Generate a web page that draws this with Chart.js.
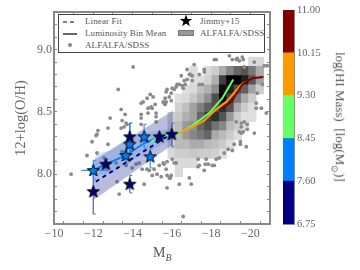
<!DOCTYPE html>
<html>
<head>
<meta charset="utf-8">
<script src="https://cdn.jsdelivr.net/npm/chart.js@4"></script>
<style>
body { margin: 0; background: #fff; width: 360px; height: 270px; overflow: hidden; position: relative; font-family: "Liberation Serif", serif; color: #555; }
canvas { position: absolute; top: 0; }
#legend { position: absolute; left: 58px; top: 14px; width: 205px; height: 37px; border: 1.5px solid #444; background: #fff; font-size: 9px; letter-spacing: 0.1px; }
#legend span, #legend svg { position: absolute; white-space: nowrap; }
#xlabel { position: absolute; left: 153px; top: 245px; font-size: 14px; }
#xlabel sub { font-size: 10px; font-style: italic; }
#cbarlabel { position: absolute; left: 339px; top: 117px; font-size: 13px; white-space: nowrap; transform: translate(-50%, -50%) rotate(90deg); }
#cbarlabel sub { font-size: 9px; }
</style>
</head>
<body>
<canvas id="mainChart" width="360" height="270" style="left:0"></canvas>
<canvas id="cbarChart" width="90" height="270" style="left:270px"></canvas>
<div id="legend">
  <svg style="left:4px;top:4px" width="14" height="6"><line x1="0" y1="3" x2="14" y2="3" stroke="#000" stroke-width="1.2" stroke-dasharray="4 3"/></svg>
  <span style="left:26px;top:1px">Linear Fit</span>
  <svg style="left:4px;top:16px" width="14" height="6"><line x1="0" y1="3" x2="14" y2="3" stroke="#000" stroke-width="1.2"/></svg>
  <span style="left:26px;top:13px">Luminosity Bin Mean</span>
  <svg style="left:8px;top:27px" width="6" height="6"><circle cx="3" cy="3" r="2" fill="#888"/></svg>
  <span style="left:26px;top:25px">ALFALFA/SDSS</span>
  <svg style="left:120px;top:-1px" width="14" height="14" viewBox="-7 -7 14 14"><polygon points="0,-6.5 1.6,-2 6.2,-2 2.5,0.8 3.8,5.3 0,2.6 -3.8,5.3 -2.5,0.8 -6.2,-2 -1.6,-2" fill="#000"/></svg>
  <svg style="left:119px;top:15px" width="16" height="7"><rect x="0.5" y="0.5" width="15" height="5" fill="#999" stroke="#777"/></svg>
  <span style="left:141px;top:1px">Jimmy+15</span>
  <span style="left:141px;top:13px">ALFALFA/SDSS</span>
</div>
<div id="xlabel">M<sub>B</sub></div>
<div id="cbarlabel">log(HI Mass) &nbsp;[log(M<sub>⊙</sub>)]</div>
<script>
const xTickLabels = [-10, -12, -14, -16, -18, -20];
const yTickLabels = [8.0, 8.5, 9.0];

// ALFALFA/SDSS outliers
const dotMag = [-14.03,-13.27,-14.90,-15.05,-14.74,-14.54,-14.44,-15.15,-14.79,-15.00,-15.76,-16.02,-16.22,-15.66,-15.71,-15.97,-15.66,-13.42,-13.62,-12.86,-14.44,-14.79,-15.20,-14.44,-13.47,-13.67,-13.72,-12.24,-12.75,-13.42,-14.44,-12.19,-10.87,-11.68,-11.94,-12.14,-12.75,-12.19,-13.57,-14.95,-15.20,-15.20,-15.56,-15.87,-13.32,-13.21,-14.59,-15.76,-14.85,-15.10,-15.36,-15.56,-15.76,-16.02,-16.22,-15.25,-15.46,-15.76,-15.00,-14.74,-14.18,-13.98,-13.67,-13.83,-14.34,-14.49,-13.47,-13.16,-12.55,-16.38,-16.99,-16.58,-16.12,-15.97,-15.92,-16.89,-17.34,-17.75,-18.26,-17.34,-17.70,-17.85,-18.06,-17.65,-20.30,-20.56,-20.30,-20.81,-19.54,-19.69,-19.84,-19.54,-19.84,-19.54,-19.64,-20.20,-19.18,-19.49,-19.49,-19.79,-18.87,-18.93,-19.08,-19.28,-19.44,-19.59,-19.64,-20.20,-20.71,-20.86,-20.61,-20.35,-17.14,-16.78,-16.48,-16.94,-17.04,-16.63,-16.27,-16.53,-15.71,-15.61,-16.12,-18.26,-19.33,-19.69,-19.28,-19.44,-19.08,-18.67,-18.42,-17.40,-18.16,-15.87,-15.61,-15.71,-16.89,-17.40,-17.65,-17.65,-18.16,-16.78,-17.04,-17.40,-17.55,-16.68,-16.38,-16.58,-15.97];
const dotOH = [8.86,8.68,8.64,8.62,8.61,8.58,8.57,8.56,8.53,8.53,8.68,8.69,8.70,8.61,8.58,8.59,8.56,8.52,8.48,8.45,8.48,8.49,8.49,8.45,8.43,8.41,8.40,8.35,8.37,8.37,8.40,8.32,8.00,8.15,8.26,8.31,8.24,8.17,8.38,8.54,8.46,8.42,8.58,8.62,7.84,7.94,7.92,7.89,8.03,8.04,8.07,8.09,8.10,8.12,8.09,8.00,7.98,7.99,7.99,8.04,8.08,8.05,8.07,8.11,8.09,8.04,8.18,8.09,8.13,7.92,7.92,7.66,8.09,7.99,7.97,7.97,8.12,8.12,8.12,8.06,8.08,8.08,8.07,8.03,8.57,8.53,8.53,8.49,8.41,8.42,8.40,8.38,8.36,8.33,8.34,8.33,8.24,8.26,8.24,8.22,8.20,8.95,8.92,8.92,8.91,8.94,8.92,8.90,8.87,8.87,8.72,8.65,8.88,8.84,8.79,8.80,8.79,8.75,8.72,8.71,8.66,8.57,8.68,8.92,8.93,8.86,8.42,8.34,8.19,8.17,8.13,8.07,8.07,7.97,8.08,8.04,8.80,8.80,8.82,8.84,8.92,8.76,8.75,8.72,8.72,8.72,8.72,8.69,8.65];

// 2d histogram, density in percent, one row per O/H bin from the top
const heatMagCentres = [-15.99,-16.36,-16.74,-17.11,-17.49,-17.86,-18.23,-18.61,-18.98,-19.36,-19.73,-20.10,-20.48];
const heatOHEdges = [8.939,8.865,8.791,8.718,8.644,8.570,8.496,8.422,8.349,8.275,8.201,8.127,8.053,7.980];
const heatDensity = [
  [0,0,0,0,0,0,0,0,0,0,0,15,15],
  [0,0,0,13,0,15,20,33,47,60,67,53,33],
  [0,0,0,13,13,18,31,75,100,100,87,67,37],
  [0,0,13,15,25,31,44,94,87,69,62,37,20],
  [0,13,15,22,31,44,69,100,75,53,33,20,0],
  [0,18,25,37,50,62,67,81,67,33,20,13,0],
  [18,22,31,37,60,75,81,67,40,20,13,13,0],
  [20,27,40,44,60,70,55,47,27,20,13,0,0],
  [22,27,40,47,53,60,33,27,20,13,0,0,0],
  [18,27,27,33,33,27,25,20,13,0,0,0,0],
  [15,20,20,22,20,20,18,13,0,0,0,0,0],
  [0,15,15,15,0,0,0,0,0,0,0,0,0],
  [0,15,0,0,0,0,0,0,0,0,0,0,0]
];

// Linear fit and its band
const fitMag = [-12.13, -16.04];
const fitOH = [7.94, 8.33];
const fitBandMag = [-12.0, -16.07];
const fitBandUpper = [8.11, 8.51];
const fitBandLower = [7.79, 8.24];

// Luminosity bin mean band
const meanBandMag = [-12.0, -12.2, -13.0, -13.7, -14.6, -16.0];
const meanBandUpper = [8.11, 8.17, 8.19, 8.28, 8.33, 8.37];
const meanBandLower = [7.98, 7.99, 8.01, 8.09, 8.16, 8.28];

// Luminosity bin means, one line per HI mass bin
const blueMag = [-12.0, -12.64, -13.66, -14.6, -15.4, -16.0];
const blueOH = [8.03, 8.08, 8.15, 8.25, 8.30, 8.32];
const greenMag = [-14.95, -15.36, -15.97, -16.42, -17.04, -17.91, -18.57, -19.13];
const greenOH = [8.26, 8.30, 8.32, 8.33, 8.39, 8.49, 8.61, 8.76];
const orangeMag = [-16.42, -17.04, -17.65, -18.26, -18.77, -19.54, -19.74];
const orangeOH = [8.33, 8.38, 8.43, 8.52, 8.58, 8.72, 8.74];
const redMag = [-18.57, -19.03, -19.59, -20.1, -20.66];
const redOH = [8.53, 8.58, 8.72, 8.77, 8.78];

// Jimmy+15 galaxies
const blueStarMag = [-12.0, -13.66, -13.86, -14.59, -14.9];
const blueStarOH = [8.03, 8.15, 8.24, 8.30, 8.14];
const blueStarLow = [7.96, 8.09, 8.16, 8.21, 8.05];
const blueStarHigh = [8.11, 8.26, 8.41, 8.40, 8.21];
const navyStarMag = [-12.0, -12.64, -13.86, -13.86, -15.36, -16.0];
const navyStarOH = [7.86, 8.08, 7.92, 8.30, 8.30, 8.32];
const navyStarLow = [7.68, 8.03, 7.85, 8.19, 8.27, 8.22];
const navyStarHigh = [8.04, 8.12, 7.99, 8.41, 8.33, 8.41];
const blueStarMagLow = [-11.4];
const blueStarMagHigh = [-12.7];

// colour bar
const cbarEdges = [6.75, 7.60, 8.45, 9.30, 10.15, 11.00];
const cbarColors = ['#000080', '#0080ff', '#66ff66', '#ff9900', '#800000'];

const axisGrey = '#888';
const textGrey = '#666';
const tickFont = { family: '"Liberation Serif", serif', size: 12 };

function zipPoints(xs, ys) {
    return xs.map((x, i) => ({ x: x, y: ys[i] }));
}

function errorPoints(xs, lows, highs) {
    const pts = [];
    xs.forEach((x, i) => {
        pts.push({ x: x, y: lows[i] }, { x: x, y: highs[i] }, { x: x, y: null });
    });
    return pts;
}

function makeStar(color) {
    const c = document.createElement('canvas');
    c.width = 15;
    c.height = 15;
    const g = c.getContext('2d');
    g.translate(7.5, 7.8);
    g.beginPath();
    for (let i = 0; i < 10; i++) {
        const r = i % 2 ? 2.6 : 6.4;
        const a = -Math.PI / 2 + i * Math.PI / 5;
        g.lineTo(r * Math.cos(a), r * Math.sin(a));
    }
    g.closePath();
    g.fillStyle = color;
    g.fill();
    g.lineWidth = 1;
    g.strokeStyle = '#000';
    g.stroke();
    return c;
}

function lineSet(xs, ys, color, order) {
    return { type: 'line', data: zipPoints(xs, ys), borderColor: color, borderWidth: 2, pointRadius: 0, tension: 0, fill: false, order: order };
}

const heatBars = [];
const heatColors = [];
heatDensity.forEach((row, r) => {
    row.forEach((d, c) => {
        if (!d) return;
        heatBars.push({ x: heatMagCentres[c], y: [heatOHEdges[r + 1], heatOHEdges[r]] });
        const g = Math.round(255 * (1 - d / 100));
        heatColors.push(`rgb(${g},${g},${g})`);
    });
});

const datasets = [
    { type: 'bar', data: heatBars, backgroundColor: heatColors, borderWidth: 0, barThickness: 7.6, order: 20 },
    { type: 'scatter', data: zipPoints(dotMag, dotOH), backgroundColor: '#8a8a8a', borderWidth: 0, pointRadius: 1.9, order: 19 },
    // band fills, the upper line fills down to the next dataset
    { type: 'line', data: zipPoints(fitBandMag, fitBandUpper), borderWidth: 0, pointRadius: 0, backgroundColor: 'rgba(70,80,165,0.38)', fill: '+1', order: 18 },
    { type: 'line', data: zipPoints(fitBandMag, fitBandLower), borderWidth: 0, pointRadius: 0, fill: false, order: 18 },
    { type: 'line', data: zipPoints(meanBandMag, meanBandUpper), borderWidth: 0, pointRadius: 0, backgroundColor: 'rgba(60,140,240,0.22)', fill: '+1', order: 17 },
    { type: 'line', data: zipPoints(meanBandMag, meanBandLower), borderWidth: 0, pointRadius: 0, fill: false, order: 17 },
    // error bars
    { type: 'line', data: errorPoints(navyStarMag, navyStarLow, navyStarHigh), borderColor: '#5a5ab0', borderWidth: 1.2, pointStyle: 'dash', pointRadius: 2.5, pointBorderColor: '#5a5ab0', pointBorderWidth: 1, order: 16 },
    { type: 'line', data: errorPoints(blueStarMag, blueStarLow, blueStarHigh), borderColor: '#2a90f0', borderWidth: 1.2, pointStyle: 'dash', pointRadius: 2.5, pointBorderColor: '#2a90f0', pointBorderWidth: 1, order: 15 },
    { type: 'line', data: [{ x: blueStarMagLow[0], y: blueStarOH[0] }, { x: blueStarMagHigh[0], y: blueStarOH[0] }], borderColor: '#2a90f0', borderWidth: 1.2, pointRadius: 0, order: 15 },
    Object.assign(lineSet(fitMag, fitOH, '#000080', 14), { borderDash: [4, 4] }),
    lineSet(blueMag, blueOH, '#0080ff', 13),
    lineSet(greenMag, greenOH, '#66ff66', 12),
    lineSet(orangeMag, orangeOH, '#ff9900', 11),
    lineSet(redMag, redOH, '#800000', 10),
    { type: 'scatter', data: zipPoints(navyStarMag, navyStarOH), pointStyle: makeStar('#000080'), pointRadius: 6, order: 9 },
    { type: 'scatter', data: zipPoints(blueStarMag, blueStarOH), pointStyle: makeStar('#0080ff'), pointRadius: 6, order: 8 }
];

function frameAxis(position, stepSize, size, showLabels) {
    const isX = position === 'top' || position === 'bottom';
    return {
        type: 'linear',
        position: position,
        reverse: isX,
        offset: false,
        min: isX ? -21 : 7.6,
        max: isX ? -10 : 9.3,
        border: { color: axisGrey, width: 2 },
        grid: { drawOnChartArea: false, color: axisGrey, tickColor: axisGrey, tickLength: -3, tickWidth: 1 },
        ticks: {
            stepSize: stepSize,
            autoSkip: false,
            maxRotation: 0,
            font: tickFont,
            color: textGrey,
            padding: isX ? 6 : 5,
            callback: (v) => {
                if (!showLabels) return '';
                if (isX) return xTickLabels.includes(Math.round(v * 100) / 100) ? '\u2212' + Math.abs(v) : '';
                return yTickLabels.some(t => Math.abs(t - v) < 1e-6) ? v.toFixed(1) : '';
            }
        },
        afterFit: (scale) => {
            if (isX) scale.height = size; else scale.width = size;
        }
    };
}

new Chart(document.getElementById('mainChart'), {
    type: 'scatter',
    data: { datasets: datasets },
    options: {
        responsive: false,
        animation: false,
        events: [],
        layout: { padding: 0 },
        plugins: {
            legend: { display: false },
            tooltip: { enabled: false },
            title: { display: false }
        },
        scales: {
            x: frameAxis('bottom', 1, 46, true),
            xTop: frameAxis('top', 1, 11, false),
            y: frameAxis('left', 0.1, 54, true),
            yRight: frameAxis('right', 0.1, 90, false)
        }
    },
    plugins: [{
        id: 'yTitle',
        afterDraw(chart) {
            const ctx = chart.ctx;
            ctx.save();
            ctx.translate(21, 118);
            ctx.rotate(-Math.PI / 2);
            ctx.font = '14.5px "Liberation Serif", serif';
            ctx.fillStyle = textGrey;
            ctx.textAlign = 'center';
            ctx.textBaseline = 'middle';
            ctx.fillText('12+log(O/H)', 0, 0);
            ctx.restore();
        }
    }]
});

new Chart(document.getElementById('cbarChart'), {
    type: 'bar',
    data: {
        labels: [''],
        datasets: cbarColors.map((color, i) => ({
            data: [[cbarEdges[i], cbarEdges[i + 1]]],
            backgroundColor: color,
            borderWidth: 0,
            barPercentage: 1,
            categoryPercentage: 1,
            grouped: false
        }))
    },
    options: {
        responsive: false,
        animation: false,
        events: [],
        layout: { padding: { left: 13, top: 10 } },
        plugins: { legend: { display: false }, tooltip: { enabled: false } },
        scales: {
            x: {
                display: true,
                border: { color: axisGrey, width: 1 },
                grid: { display: false },
                ticks: { display: false },
                afterFit: (scale) => { scale.height = 46; }
            },
            y: {
                position: 'right',
                min: 6.75,
                max: 11,
                border: { color: axisGrey, width: 1 },
                grid: { drawOnChartArea: false, drawTicks: false },
                afterBuildTicks: (scale) => { scale.ticks = cbarEdges.map(v => ({ value: v })); },
                ticks: {
                    autoSkip: false,
                    font: { family: '"Liberation Serif", serif', size: 10.5 },
                    color: textGrey,
                    padding: 3,
                    callback: (v) => v.toFixed(2)
                },
                afterFit: (scale) => { scale.width = 66; }
            }
        }
    }
});
</script>
</body>
</html>
